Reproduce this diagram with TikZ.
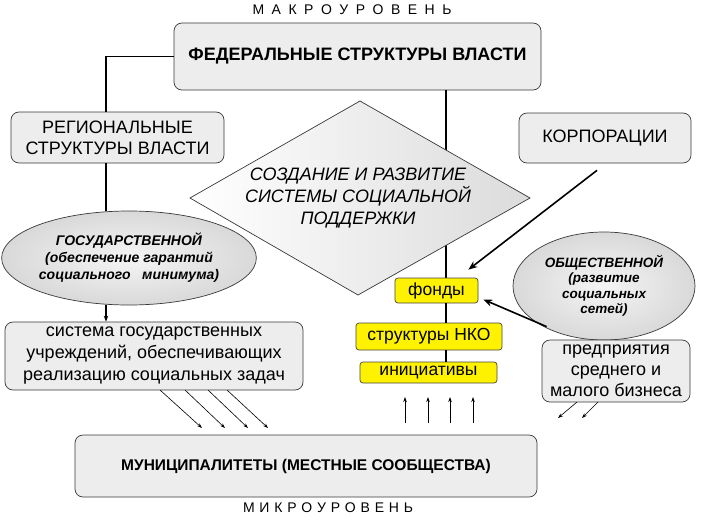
\documentclass[tikz,border=0pt]{standalone}
\usepackage{fontspec}
\setmainfont{Liberation Sans}
\usetikzlibrary{arrows.meta,shapes.geometric,calc}
\newcommand\fBig{\fontsize{18}{21}\selectfont}
\newcommand\fMid{\fontsize{17.5}{20}\selectfont}
\newcommand\fSm{\fontsize{14}{17}\selectfont}
\newcommand\lsp{\kern7.5pt}
\newcommand\msp{\kern4.8pt}
\begin{document}
\begin{tikzpicture}[x=1pt,y=-1pt,
  box/.style={draw=gray!45!black, line width=0.7pt, rounded corners=8pt, fill=gray!14, align=center, inner sep=0pt},
  ybox/.style={draw=gray!55!black, line width=0.7pt, rounded corners=3pt, fill=yellow, inner sep=0pt, font=\fMid},
  oval/.style={ellipse, draw=gray!45!black, line width=0.7pt, inner color=gray!8, outer color=gray!30, align=center, inner sep=0pt},
  conn/.style={line width=1.6pt},
  bigarr/.style={line width=1.6pt, -{Stealth[length=9pt,width=7pt]}},
  smarr/.style={line width=0.6pt, -{Stealth[length=5pt,width=3.5pt]}},
  txt/.style={inner sep=0pt, align=center}]
\useasboundingbox (0,0) rectangle (708,519);
\fill[white] (0,0) rectangle (708,519);
\coordinate (vx) at (106,0);
\coordinate (vy) at (446,0);

\node[txt, font=\fontsize{14}{16}\selectfont] (macro) at (352,10) {М\lsp А\lsp К\lsp Р\lsp О\lsp У\lsp Р\lsp О\lsp В\lsp Е\lsp Н\lsp Ь};
\node[box, minimum width=367pt, minimum height=67pt, font=\fontsize{18}{21}\selectfont\bfseries] (fed) at (357.5,56.5) {ФЕДЕРАЛЬНЫЕ СТРУКТУРЫ ВЛАСТИ};
\node[box, minimum width=213pt, minimum height=51pt, font=\fBig] (reg) at (117.5,137.5) {РЕГИОНАЛЬНЫЕ\\СТРУКТУРЫ ВЛАСТИ};
\node[box, minimum width=172pt, minimum height=50pt, font=\fBig] (korp) at (605,138) {КОРПОРАЦИИ};

% line behind the diamond
\draw[conn] (fed.south -| vy) -- ($(vy)+(0,278)$) coordinate (fondtop);

\path[draw=gray!45!black, line width=0.7pt, left color=white, right color=gray!28]
  (360,101) coordinate (dT) -- (530,198) coordinate (dR) -- (358,295) coordinate (dB) -- (190,198) coordinate (dL) -- cycle;
\node[txt, font=\fBig\itshape] (diam) at (358,198) {СОЗДАНИЕ И РАЗВИТИЕ\\[1pt]СИСТЕМЫ СОЦИАЛЬНОЙ\\[1pt]ПОДДЕРЖКИ};

\node[oval, minimum width=248pt, minimum height=94pt, font=\fSm\bfseries\itshape] (gos) at (129,258) {ГОСУДАРСТВЕННОЙ\\(обеспечение гарантий\\социального \ \ минимума)};
\node[oval, minimum width=182pt, minimum height=108pt, font=\fontsize{13.5}{15.5}\selectfont\bfseries\itshape] (obsh) at (604,286) {ОБЩЕСТВЕННОЙ\\(развитие\\социальных\\сетей)};

\node[box, minimum width=298pt, minimum height=68pt, font=\fBig] (sys) at (154,356) {система государственных\\[1pt]учреждений, обеспечивающих\\[1pt]реализацию социальных задач};

\node[ybox, minimum width=83pt, minimum height=25pt] (fond) at (436.5,290.5) {фонды};
\node[ybox, minimum width=146pt, minimum height=27pt] (nko) at (429,336.5) {структуры НКО};
\node[ybox, minimum width=137pt, minimum height=21pt] (init) at (428.5,372.5) {инициативы};

\node[box, minimum width=148pt, minimum height=62pt, font=\fBig] (pred) at (616,371) {предприятия\\[0pt]среднего и\\[0pt]малого бизнеса};

\node[box, minimum width=462pt, minimum height=62pt, font=\fontsize{15.5}{18}\selectfont\bfseries] (mun) at (306,466) {МУНИЦИПАЛИТЕТЫ (МЕСТНЫЕ СООБЩЕСТВА)};
\node[txt, font=\fontsize{14}{16}\selectfont] (micro) at (328,508) {М\msp И\msp К\msp Р\msp О\msp У\msp Р\msp О\msp В\msp Е\msp Н\msp Ь};

% connectors
\draw[conn] (fed.west) -| (reg.north -| vx);
\draw[conn] (reg.south -| vx) -- (vx |- gos.north);
\draw[line width=1.2pt, -{Stealth[length=6pt,width=4.5pt]}] (vx |- gos.south) -- (sys.north -| vx);
\draw[conn] (fond.south -| vy) -- (nko.north -| vy);
\draw[conn] (nko.south -| vy) -- (init.north -| vy);

\draw[bigarr] ($(korp.south)+(-8,7)$) -- ($(fond.north east)+(-10,-8)$);
\draw[bigarr] ($(pred.north west)+(5,-13)$) -- ($(fond.east)+(5,9)$);

\foreach \sx/\ex in {160/202,185/225,208/248,227/268}
  \draw[smarr] (\sx,390) -- (\ex,428);
\foreach \ux in {405,428,450,473}
  \draw[smarr, line width=0.8pt] (\ux,423) -- (\ux,397);
\draw[smarr] (577,402) -- (558,418);
\draw[smarr] (598,402) -- (582,418);
\end{tikzpicture}
\end{document}
